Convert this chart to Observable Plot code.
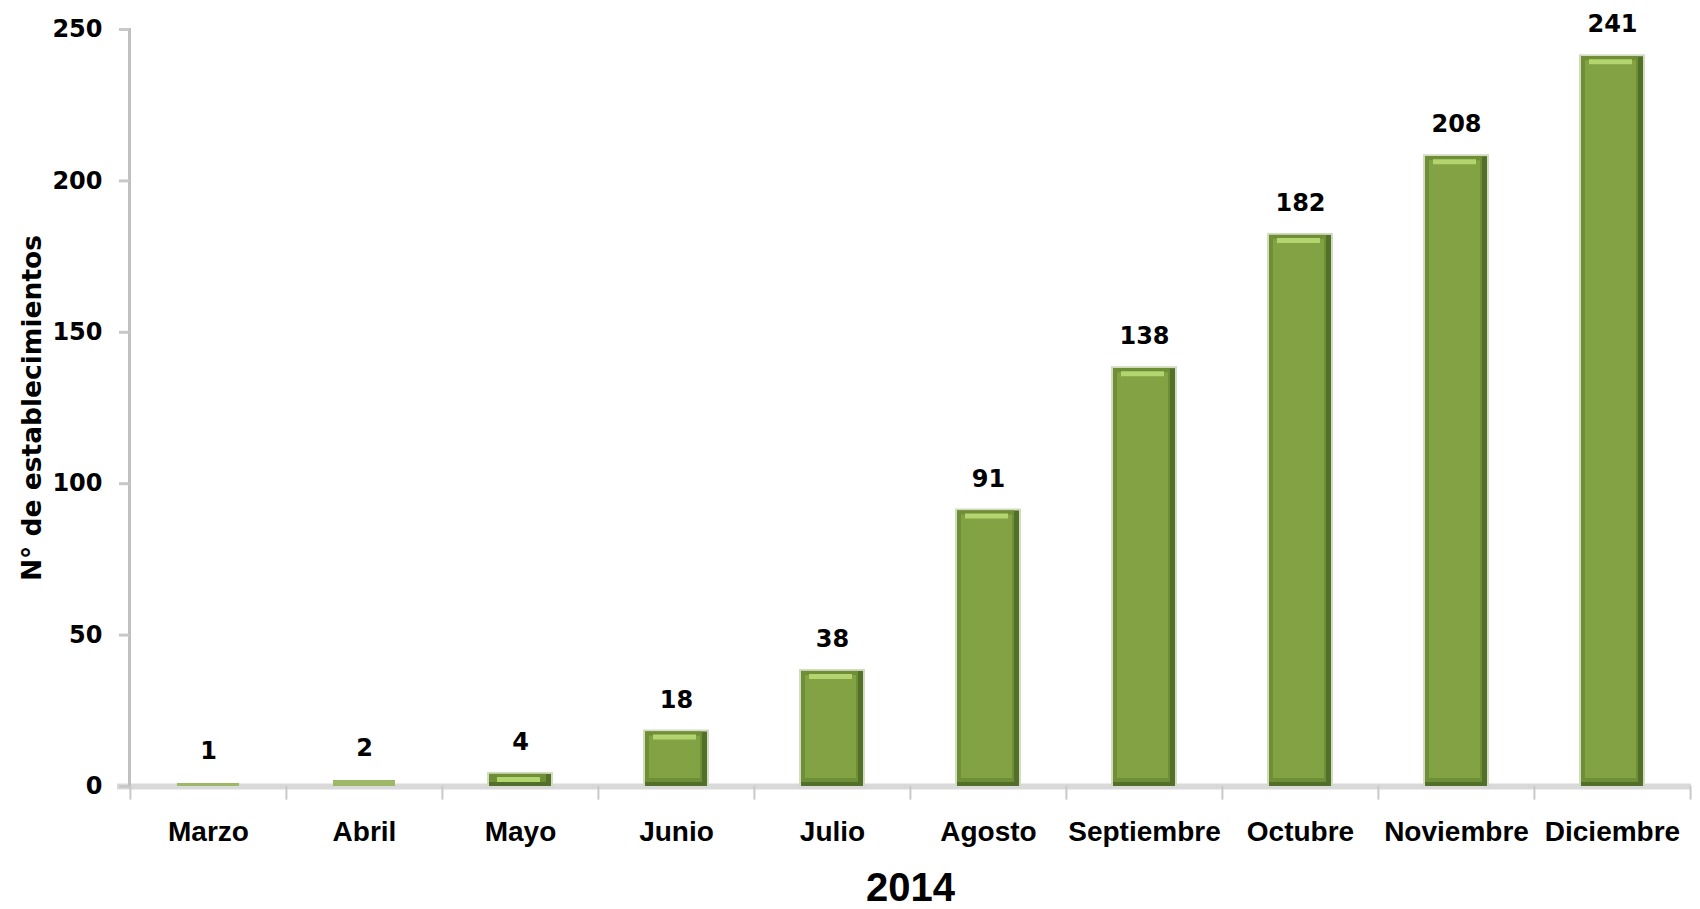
<!DOCTYPE html>
<html><head><meta charset="utf-8">
<script src="https://cdn.jsdelivr.net/npm/d3@7"></script>
<script src="https://cdn.jsdelivr.net/npm/@observablehq/plot@0.6"></script>
<style>body{margin:0;background:#fff}</style>
</head><body><div id="chart"></div>
<script>
const months = ["Marzo","Abril","Mayo","Junio","Julio","Agosto","Septiembre","Octubre","Noviembre","Diciembre"];
const values = [1,2,4,18,38,91,138,182,208,241];
const yTicks = [0,50,100,150,200,250];
const yLabel = "N° de establecimientos";
const xTitle = "2014";

const data = months.map((m,i)=>({month:m, value:values[i]}));
const W=1700, H=909, ml=129, mr=9, mt=29, mb=123;
const step = (W-ml-mr)/months.length;
const boldFont = "DejaVu Sans";
const labFont = "Liberation Sans";

const chart = Plot.plot({
  width: W, height: H,
  marginLeft: ml, marginRight: mr, marginTop: mt, marginBottom: mb,
  style: {background:"#fff", fontFamily: boldFont, overflow:"visible"},
  x: {type:"band", domain: months, paddingInner:0.6, paddingOuter:0.3},
  y: {domain:[0,250]},
  marks: [
    Plot.ruleY([0], {stroke:"#d9d9d9", strokeWidth:6, insetLeft:-12}),
    Plot.frame({anchor:"left", stroke:"#c0c0c0", strokeWidth:3}),
    Plot.ruleX(months, {x:d=>d, y1:0, y2:-4.5, dx:-step/2, stroke:"#c8c8c8", strokeWidth:2}),
    Plot.ruleX([months[months.length-1]], {x:d=>d, y1:0, y2:-4.5, dx:step/2, stroke:"#c8c8c8", strokeWidth:2}),
    Plot.barY(data.filter(d=>d.value>=3), {x:"month", y:"value", fill:"#d3dcc0", insetLeft:-2, insetRight:-2, insetTop:-2}),
    Plot.barY(data.filter(d=>d.value>=3), {x:"month", y:"value", fill:"#52702a"}),
    Plot.barY(data.filter(d=>d.value<3), {x:"month", y:"value", fill:"#9db868"}),
    Plot.barY(data.filter(d=>d.value>=3), {x:"month", y:"value", fill:"#6f8f36", insetRight:5, insetBottom:4}),
    Plot.barY(data.filter(d=>d.value>=5), {x:"month", y:"value", fill:"#82a243", insetLeft:4, insetRight:7, insetTop:4, insetBottom:8}),
    Plot.tickY(data.filter(d=>d.value>=3), {x:"month", y:"value", dy:5, stroke:"#b3d46e", strokeWidth:5, insetLeft:8, insetRight:11}),
    Plot.axisY({ticks:yTicks, tickSize:10, tickPadding:17, stroke:"#c8c8c8", strokeWidth:3, fontSize:24, fontWeight:"bold", fontFamily:boldFont, fill:"#000", label:null}),
    Plot.axisX({tickSize:0, tickPadding:35, fontSize:28, fontWeight:"bold", fontFamily:labFont, fill:"#000", label:null}),
    Plot.text(data, {x:"month", y:"value", text:d=>String(d.value), dy:-32, lineAnchor:"middle", fontSize:24, fontWeight:"bold", fill:"#000"}),
    Plot.text([yLabel], {frameAnchor:"left", text:d=>d, rotate:-90, dx:-97, textAnchor:"middle", lineAnchor:"middle", fontSize:26.5, fontWeight:"bold", fill:"#000"}),
    Plot.text([xTitle], {frameAnchor:"bottom", text:d=>d, dy:102, lineAnchor:"middle", fontSize:40, fontWeight:"bold", fontFamily:labFont, fill:"#000"})
  ]
});
document.getElementById("chart").append(chart);
</script>
</body></html>
